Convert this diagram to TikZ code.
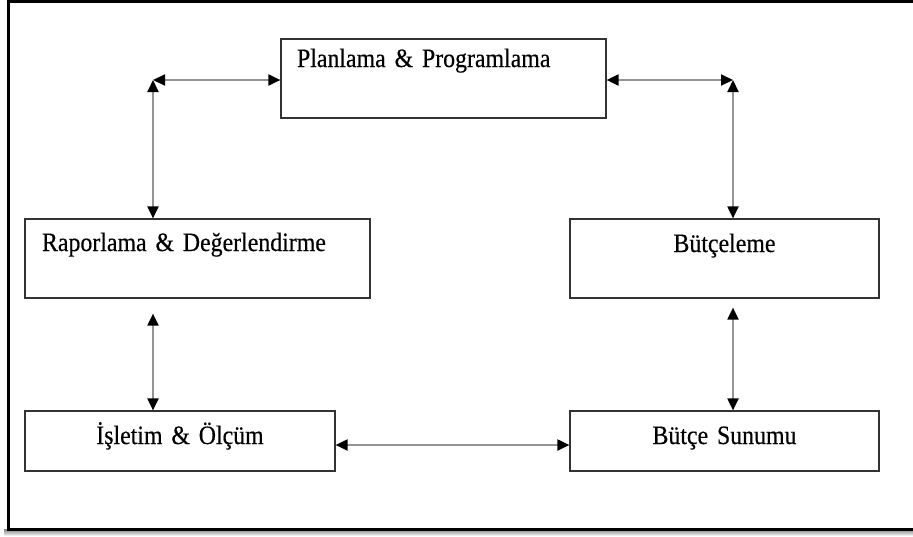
\documentclass[tikz,border=0pt]{standalone}
\usepackage{fontspec}
\setmainfont{Liberation Serif}[FakeStretch=0.9, WordSpace=0.7, FakeBold=0.4]
\usepackage{tikz}
\usetikzlibrary{arrows.meta, calc}

\tikzset{
    kutu/.style={draw=black!80, line width=1.2pt, inner ysep=0pt},
    link/.style={draw=black!42, line width=2pt,
        {Triangle[length=12pt,width=11pt,color=black]}-{Triangle[length=12pt,width=11pt,color=black]}},
}

\begin{document}
\begin{tikzpicture}[x=1pt, y=-1pt, font=\fontsize{26.5}{30}\selectfont]
    \useasboundingbox (0,0) rectangle (913,536);
    \clip (0,0) rectangle (913,536);
    \shade[top color=black!50, bottom color=white] (4,529) rectangle (913,536);
    \draw[line width=3pt] (8.5,1.5) rectangle (930,529);

    \node[kutu, inner xsep=16pt, text width=293pt, align=left,
        text height=28pt, text depth=51pt] (plan) at (443.5,78.5) {Planlama \& Programlama};
    \node[kutu, inner xsep=17pt, text width=311pt, align=left,
        text height=32pt, text depth=47pt] (rapor) at (197.5,258.5) {Raporlama \& Değerlendirme};
    \node[kutu, inner xsep=0pt, text width=309pt, align=center,
        text height=33pt, text depth=46pt] (butce) at (724.5,258.5) {Bütçeleme};
    \node[kutu, inner xsep=0pt, text width=310pt, align=center,
        text height=33pt, text depth=27pt] (islet) at (180,441) {İşletim \& Ölçüm};
    \node[kutu, inner xsep=0pt, text width=309pt, align=center,
        text height=33pt, text depth=27pt] (sunum) at (724.5,441) {Bütçe Sunumu};

    \coordinate (lk) at (153,80);
    \coordinate (rk) at (733,80);

    \draw[link] (lk) -- (lk -| plan.west);
    \draw[link] (lk) -- (lk |- rapor.north);
    \draw[link] (plan.east |- rk) -- (rk);
    \draw[link] (rk) -- (rk |- butce.north);
    \draw[link] ([yshift=-15pt]rapor.south -| lk) -- (islet.north -| lk);
    \draw[link] ([yshift=-9pt]butce.south -| rk) -- (sunum.north -| rk);
    \draw[link] ([yshift=-4pt]islet.east) -- ([yshift=-4pt]islet.east -| sunum.west);
\end{tikzpicture}
\end{document}
